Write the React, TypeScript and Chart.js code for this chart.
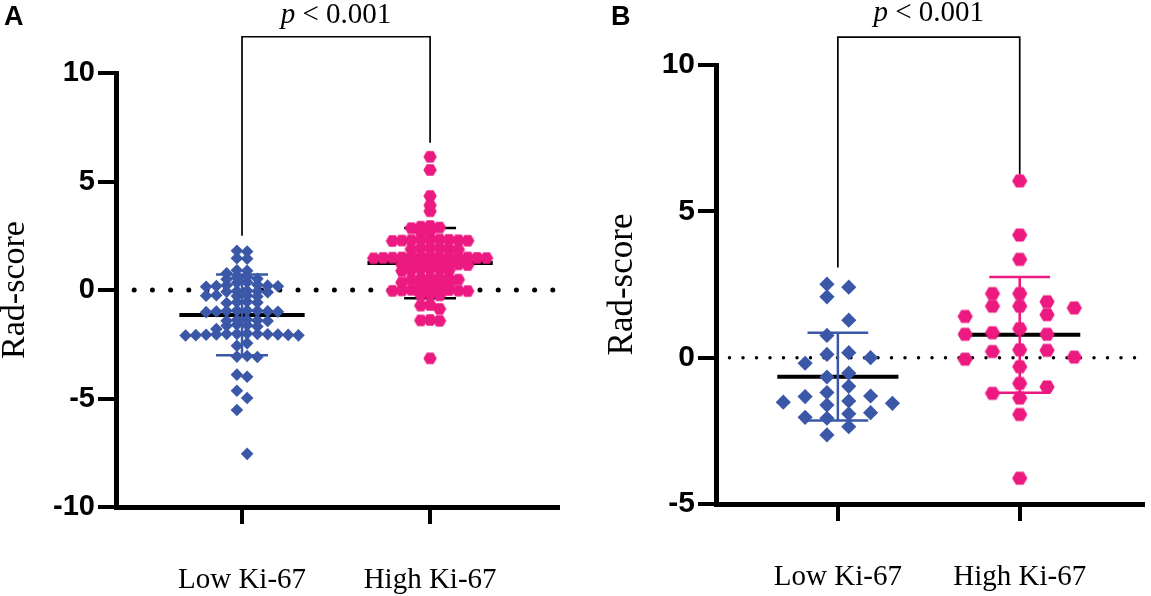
import React, { useEffect, useRef } from 'react';
import { Chart, registerables } from 'chart.js';

Chart.register(...registerables);

// ---------------- data ----------------
const categories = ['Low Ki-67', 'High Ki-67'];

const aLow = [
  1.81, 1.77,
  1.46, 1.44,
  0.91, 0.89, 0.77,
  0.6, 0.58, 0.52, 0.5,
  0.36, 0.33,
  0.24, 0.22, 0.2, 0.18, 0.17, 0.15,
  -0.03, -0.05, -0.06, -0.08, -0.1,
  -0.24, -0.25, -0.26, -0.28, -0.3,
  -0.54, -0.56, -0.58, -0.6,
  -0.94, -0.95, -0.96, -0.97, -0.98, -0.99, -1.0, -1.02,
  -1.37, -1.38, -1.4, -1.42, -1.43,
  -1.6, -1.62, -1.65, -1.68,
  -1.8,
  -2.01, -2.02, -2.03, -2.03, -2.04, -2.05, -2.05, -2.06, -2.07, -2.08, -2.09, -2.1,
  -2.45, -2.57,
  -3.04, -3.07, -3.09,
  -3.9, -4.0,
  -4.64, -4.98, -5.53, -7.55,
];

const aHigh = [
  6.14, 5.53, 4.33, 3.9, 3.63,
  2.95, 2.92, 2.88, 2.85,
  2.7, 2.67,
  2.35, 2.33, 2.32, 2.31, 2.3, 2.29, 2.28, 2.27, 2.26,
  1.95, 1.93, 1.92, 1.9, 1.88, 1.86,
  1.55, 1.54, 1.53, 1.52, 1.52, 1.51, 1.5, 1.5, 1.49, 1.48, 1.48, 1.47, 1.46,
  1.24, 1.22, 1.21, 1.2, 1.19, 1.18, 1.17, 1.15,
  0.99, 0.97, 0.95, 0.93, 0.9, 0.88,
  0.57, 0.55, 0.53, 0.52, 0.5, 0.48,
  0.35, 0.32, 0.3, 0.28, 0.27,
  0.05, 0.03, 0.02, 0.01, 0.0, -0.02, -0.03, -0.04, -0.05,
  -0.18, -0.22, -0.25,
  -0.69, -0.72, -0.87,
  -1.38, -1.4, -1.42,
  -3.15,
];

const bLow = [
  2.51, 2.41, 2.08, 1.28, 0.76, 0.17, 0.11, 0.0, -0.19, -0.53, -0.66, -0.98, -1.19,
  -1.31, -1.33, -1.48, -1.52, -1.56, -1.62, -1.88, -1.92, -2.04, -2.07, -2.36, -2.64,
];

const bHigh = [
  6.04, 4.19, 3.36, 2.19, 2.19, 1.91, 1.76, 1.76, 1.7, 1.47, 1.41, 0.99, 0.85, 0.8,
  0.8, 0.27, 0.25, 0.21, 0.02, -0.05, -0.31, -0.88, -1.0, -1.22, -1.38, -1.94, -4.12,
];

const aMeans = [-1.15, 1.24];
const aSDs = [1.86, 1.62];
const bMeans = [-0.65, 0.78];
const bSDs = [1.5, 1.98];

// bracket: [left foot, top, right foot]
const aBracket = [2.5, 11.67, 6.78];
const bBracket = [3.08, 10.95, 6.26];

const aYRange = [-10, 10];
const bYRange = [-5, 10];
const yStep = 5;

const pValueParts = ['p', ' < 0.001'];
const panelLetters = ['A', 'B'];
const yTitle = 'Rad-score';

// ---------------- styling ----------------
const BLUE = '#3b58a8';
const PINK = '#ec1a80';
const SERIF = "'Liberation Serif', 'Times New Roman', serif";
const SANS = "'Liberation Sans', Arial, sans-serif";
const X_RANGE = [0.33, 2.68];

interface PanelStyle {
  left: number;
  width: number;
  yAxisWidth: number;
  xAxisHeight: number;
  padTop: number;
  padRight: number;
  tickSize: number;
  tickPad: number;
  titleSize: number;
  titlePad: number;
  diamondR: number;
  hexR: number;
  tol: number;
  dotGap: number;
  dotSize: number;
  sdColors: string[];
  capHalf: number;
  pGap: number;
  letterX: number;
}

interface PanelDef {
  low: number[];
  high: number[];
  means: number[];
  sds: number[];
  bracket: number[];
  yRange: number[];
  letter: string;
  style: PanelStyle;
}

const panels: PanelDef[] = [
  {
    low: aLow, high: aHigh, means: aMeans, sds: aSDs, bracket: aBracket, yRange: aYRange,
    letter: panelLetters[0],
    style: {
      left: 0, width: 575, yAxisWidth: 116, xAxisHeight: 89, padTop: 73, padRight: 17,
      tickSize: 29, tickPad: 3, titleSize: 34, titlePad: -2, diamondR: 6.3, hexR: 6.7,
      tol: 0.22, dotGap: 18.2, dotSize: 5, sdColors: [BLUE, '#000'], capHalf: 0.138,
      pGap: 14, letterX: 4,
    },
  },
  {
    low: bLow, high: bHigh, means: bMeans, sds: bSDs, bracket: bBracket, yRange: bYRange,
    letter: panelLetters[1],
    style: {
      left: 575, width: 576, yAxisWidth: 141, xAxisHeight: 92, padTop: 65, padRight: 0,
      tickSize: 30, tickPad: 3, titleSize: 35, titlePad: 30.5, diamondR: 7.6, hexR: 7.6,
      tol: 0.42, dotGap: 13.5, dotSize: 3.5, sdColors: [BLUE, PINK], capHalf: 0.167,
      pGap: 16.5, letterX: 36,
    },
  },
];

// Beeswarm: place each value in the column nearest the centre that has no
// neighbour within `tol`, then scale the columns to fit in +-halfWidth.
function swarm(values: number[], tol: number, halfWidth: number): number[] {
  const order = values.map((_, i) => i).sort((a, b) => values[b] - values[a]);
  const layout = (parity: number) => {
    const placed: { k: number; v: number }[] = [];
    const ks: number[] = new Array(values.length).fill(0);
    let left = 0;
    let right = 0;
    for (const i of order) {
      const v = values[i];
      let k = 0;
      for (let step = 0; step < 200; step++) {
        const base = step + parity;
        const cands = base === 0 ? [0] : left <= right ? [-base, base] : [base, -base];
        const free = cands.find(
          (c) => !placed.some((p) => p.k === c && Math.abs(p.v - v) < tol)
        );
        if (free !== undefined) {
          k = free;
          break;
        }
      }
      ks[i] = k;
      placed.push({ k, v });
      if (k < 0) left++;
      else if (k > 0) right++;
    }
    return ks;
  };
  const a = layout(0);
  const b = layout(0.5);
  const ma = Math.max(...a.map(Math.abs));
  const mb = Math.max(...b.map(Math.abs));
  const useB = mb < ma;
  const ks = useB ? b : a;
  const m = Math.max(useB ? mb : ma, 1);
  const unit = halfWidth / m;
  return ks.map((k) => k * unit);
}

function hexImage(r: number, color: string): HTMLCanvasElement {
  const w = Math.ceil(2 * r) + 2;
  const h = Math.ceil(Math.sqrt(3) * r) + 2;
  const c = document.createElement('canvas');
  c.width = w;
  c.height = h;
  const g = c.getContext('2d')!;
  g.fillStyle = color;
  g.beginPath();
  for (let i = 0; i < 6; i++) {
    const ang = (Math.PI / 3) * i;
    const x = w / 2 + r * Math.cos(ang);
    const y = h / 2 + r * Math.sin(ang);
    if (i === 0) g.moveTo(x, y);
    else g.lineTo(x, y);
  }
  g.closePath();
  g.fill();
  return c;
}

function buildConfig(p: PanelDef): any {
  const s = p.style;
  const groups = [p.low, p.high];
  const MEAN_HALF = 0.333;

  const pointSets = groups.map((vals, gi) => {
    const offs = swarm(vals, s.tol, 0.3);
    const isLow = gi === 0;
    return {
      type: 'line',
      showLine: false,
      order: 0,
      data: vals.map((v, i) => ({ x: gi + 1 + offs[i], y: v })),
      pointStyle: isLow ? 'rectRot' : hexImage(s.hexR, PINK),
      pointRadius: isLow ? s.diamondR : s.hexR,
      pointHoverRadius: isLow ? s.diamondR : s.hexR,
      pointBackgroundColor: isLow ? BLUE : PINK,
      pointBorderWidth: 0,
      borderWidth: 0,
    };
  });

  const meanSet = {
    type: 'line',
    order: 2,
    data: groups.flatMap((_, gi) => [
      { x: gi + 1 - MEAN_HALF, y: p.means[gi] },
      { x: gi + 1 + MEAN_HALF, y: p.means[gi] },
      { x: gi + 1.5, y: null },
    ]),
    borderColor: '#000',
    borderWidth: 4,
    pointRadius: 0,
    spanGaps: false,
  };

  const sdSets = groups.map((_, gi) => {
    const c = gi + 1;
    const hi = p.means[gi] + p.sds[gi];
    const lo = p.means[gi] - p.sds[gi];
    return {
      type: 'line',
      order: 1,
      data: [
        { x: c - s.capHalf, y: hi }, { x: c + s.capHalf, y: hi }, { x: c, y: null },
        { x: c, y: hi }, { x: c, y: lo }, { x: c + 0.01, y: null },
        { x: c - s.capHalf, y: lo }, { x: c + s.capHalf, y: lo },
      ],
      borderColor: s.sdColors[gi],
      borderWidth: 2.5,
      pointRadius: 0,
      spanGaps: false,
    };
  });

  const zeroSet = {
    type: 'line',
    order: 3,
    data: [{ x: X_RANGE[0], y: 0 }, { x: X_RANGE[1], y: 0 }],
    borderColor: '#000',
    borderWidth: s.dotSize,
    borderDash: [0, s.dotGap],
    borderCapStyle: 'round',
    pointRadius: 0,
  };

  const bracketSet = {
    type: 'line',
    order: 4,
    clip: false,
    data: [
      { x: 1, y: p.bracket[0] }, { x: 1, y: p.bracket[1] },
      { x: 2, y: p.bracket[1] }, { x: 2, y: p.bracket[2] },
    ],
    borderColor: '#000',
    borderWidth: 1.7,
    pointRadius: 0,
  };

  const annot = {
    id: 'annot' + p.letter,
    afterDraw(chart: any) {
      const ctx = chart.ctx as CanvasRenderingContext2D;
      const xs = chart.scales.x;
      const ys = chart.scales.y;
      ctx.save();
      ctx.fillStyle = '#000';
      ctx.textBaseline = 'alphabetic';
      ctx.textAlign = 'left';
      // panel letter
      ctx.font = `bold 27px ${SANS}`;
      ctx.fillText(p.letter, s.letterX, 25);
      // p value
      const italic = `italic 29px ${SERIF}`;
      const normal = `29px ${SERIF}`;
      ctx.font = italic;
      const w1 = ctx.measureText(pValueParts[0]).width;
      ctx.font = normal;
      const w2 = ctx.measureText(pValueParts[1]).width;
      const cx = (xs.getPixelForValue(1) + xs.getPixelForValue(2)) / 2;
      const by = ys.getPixelForValue(p.bracket[1]) - s.pGap;
      const x0 = cx - (w1 + w2) / 2;
      ctx.font = italic;
      ctx.fillText(pValueParts[0], x0, by);
      ctx.font = normal;
      ctx.fillText(pValueParts[1], x0 + w1, by);
      ctx.restore();
    },
  };

  return {
    type: 'line',
    data: { datasets: [...pointSets, meanSet, ...sdSets, zeroSet, bracketSet] },
    options: {
      animation: false,
      responsive: false,
      events: [],
      layout: { padding: { top: s.padTop, right: s.padRight, left: 0, bottom: 0 } },
      plugins: { legend: { display: false }, tooltip: { enabled: false } },
      scales: {
        x: {
          type: 'linear',
          min: X_RANGE[0],
          max: X_RANGE[1],
          afterBuildTicks: (scale: any) => {
            scale.ticks = categories.map((_, i) => ({ value: i + 1 }));
          },
          afterFit: (scale: any) => {
            scale.height = s.xAxisHeight;
          },
          ticks: {
            callback: (v: any) => categories[Math.round(Number(v)) - 1] ?? '',
            font: { family: SERIF, size: 29 },
            color: '#000',
            padding: 39,
            maxRotation: 0,
            autoSkip: false,
          },
          grid: {
            display: true,
            drawOnChartArea: false,
            drawTicks: true,
            tickLength: 17,
            lineWidth: 4,
            color: '#000',
          },
          border: { display: true, width: 5, color: '#000' },
        },
        y: {
          type: 'linear',
          min: p.yRange[0],
          max: p.yRange[1],
          afterFit: (scale: any) => {
            scale.width = s.yAxisWidth;
          },
          ticks: {
            stepSize: yStep,
            font: { family: SANS, size: s.tickSize, weight: 'bold' },
            color: '#000',
            padding: s.tickPad,
          },
          grid: {
            display: true,
            drawOnChartArea: false,
            drawTicks: true,
            tickLength: 18,
            lineWidth: 4,
            color: '#000',
          },
          border: { display: true, width: 5, color: '#000' },
          title: {
            display: true,
            text: yTitle,
            color: '#000',
            font: { family: SERIF, size: s.titleSize, lineHeight: 1 },
            padding: { top: s.titlePad, bottom: 0 },
          },
        },
      },
    },
    plugins: [annot],
  };
}

function Panel({ def }: { def: PanelDef }) {
  const ref = useRef<HTMLCanvasElement | null>(null);
  useEffect(() => {
    if (!ref.current) return;
    const chart = new Chart(ref.current, buildConfig(def));
    return () => chart.destroy();
  }, [def]);
  return (
    <canvas
      ref={ref}
      width={def.style.width}
      height={596}
      style={{
        position: 'absolute',
        left: def.style.left,
        top: 0,
        width: def.style.width,
        height: 596,
      }}
    />
  );
}

export default function App() {
  return (
    <div
      style={{
        position: 'absolute',
        left: 0,
        top: 0,
        width: 1151,
        height: 596,
        background: '#fff',
        overflow: 'hidden',
      }}
    >
      {panels.map((d) => (
        <Panel key={d.letter} def={d} />
      ))}
    </div>
  );
}
